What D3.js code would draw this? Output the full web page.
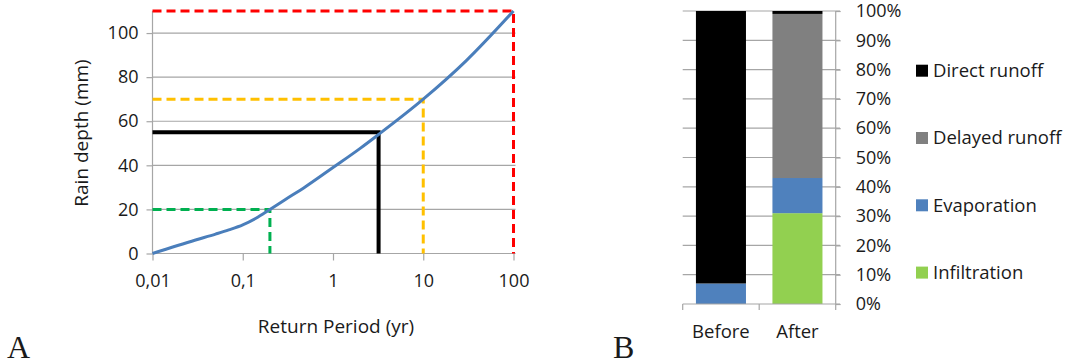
<!DOCTYPE html>
<html>
<head>
<meta charset="utf-8">
<script src="https://cdn.jsdelivr.net/npm/d3@7"></script>
<style>
  html, body { margin: 0; padding: 0; background: #fff; }
  svg { display: block; }
  text { font-family: "Open Sans", sans-serif; fill: #1a1a1a; }
</style>
</head>
<body>
<svg id="chart" width="1065" height="364"></svg>
<script>
// ---- Panel A data ----
const returnPeriods = [0.01, 0.03, 0.05, 0.07, 0.1, 0.14, 0.2, 0.3, 0.5, 1, 2, 3.2, 10, 30, 100];
const rainDepths    = [0,    6.1,  8.8,  10.7, 13,  16,   20,  24.6, 30.4, 39, 47.7, 54, 70, 87.5, 110];
const xTickValues = [0.01, 0.1, 1, 10, 100];
const xTickLabels = ["0,01", "0,1", "1", "10", "100"];
const yTickValues = [0, 20, 40, 60, 80, 100];
const refPeriods = [0.2, 3.2, 10, 100];
const refDepths  = [20, 55, 70, 110];
const refNames   = ["green", "black", "yellow", "red"];

// ---- Panel B data ----
const categories = ["Before", "After"];
const seriesNames = ["Infiltration", "Evaporation", "Delayed runoff", "Direct runoff"];
const infiltration  = [0, 31];
const evaporation   = [7, 12];
const delayedRunoff = [0, 56];
const directRunoff  = [93, 1];
const pctTicks = [0, 10, 20, 30, 40, 50, 60, 70, 80, 90, 100];

const svg = d3.select("#chart");

// ================= Panel A =================
const refStyle = {
  green:  { color: "#00b050", dash: "9,5", width: 3 },
  black:  { color: "#000000", dash: null,  width: 4 },
  yellow: { color: "#ffc000", dash: "9,5", width: 3 },
  red:    { color: "#ff0000", dash: "9,5", width: 3 }
};

const xA = d3.scaleLog().domain([0.01, 100]).range([152.5, 513.5]);
const yA = d3.scaleLinear().domain([0, 110]).range([253.5, 11]);
const gA = svg.append("g");

// gridlines
gA.append("g").selectAll("line").data(yTickValues.filter(d => d > 0)).join("line")
  .attr("x1", xA(0.01)).attr("x2", xA(100) + 2)
  .attr("y1", d => yA(d)).attr("y2", d => yA(d))
  .attr("stroke", "#a6a6a6").attr("stroke-width", 1.2);

// y axis
const yAxisA = d3.axisLeft(yA).tickValues(yTickValues).tickSize(6).tickPadding(8);
const gyA = gA.append("g").attr("transform", `translate(${xA(0.01)},0)`).call(yAxisA);
gyA.select(".domain").attr("stroke", "#a6a6a6").attr("stroke-width", 1.2).attr("d", `M0,${yA(0)}V${yA(110)}`);
gyA.selectAll(".tick line").attr("stroke", "#a6a6a6").attr("stroke-width", 1.2);
gyA.selectAll(".tick text").style("font-size", "18px").style("font-family", "Open Sans").attr("fill", "#1a1a1a");

// x axis
const xAxisA = d3.axisBottom(xA).tickValues(xTickValues)
  .tickFormat((d, i) => xTickLabels[i]).tickSize(7).tickPadding(14);
const gxA = gA.append("g").attr("transform", `translate(0,${yA(0)})`).call(xAxisA);
gxA.select(".domain").attr("stroke", "#a6a6a6").attr("stroke-width", 1.2).attr("d", `M${xA(0.01)},0H${xA(100) + 2}`);
gxA.selectAll(".tick line").attr("stroke", "#a6a6a6").attr("stroke-width", 1.2);
gxA.selectAll(".tick text").style("font-size", "18px").style("font-family", "Open Sans").attr("fill", "#1a1a1a");

// reference lines
refPeriods.forEach((p, i) => {
  const st = refStyle[refNames[i]];
  const path = d3.path();
  path.moveTo(xA(0.01), yA(refDepths[i]));
  path.lineTo(xA(p), yA(refDepths[i]));
  path.lineTo(xA(p), yA(0));
  gA.append("path").attr("d", path.toString())
    .attr("fill", "none").attr("stroke", st.color).attr("stroke-width", st.width)
    .attr("stroke-dasharray", st.dash);
});

// curve
const line = d3.line()
  .x((d, i) => xA(returnPeriods[i]))
  .y(d => yA(d))
  .curve(d3.curveMonotoneX);
gA.append("path").attr("d", line(rainDepths))
  .attr("fill", "none").attr("stroke", "#4a7ebb").attr("stroke-width", 3);

// axis titles
gA.append("text").attr("x", 336).attr("y", 333).attr("text-anchor", "middle")
  .style("font-size", "19px").text("Return Period (yr)");
gA.append("text").attr("transform", "translate(88,133) rotate(-90)").attr("text-anchor", "middle")
  .style("font-size", "19px").text("Rain depth (mm)");
gA.append("text").attr("x", 7).attr("y", 358)
  .style("font-family", "Liberation Serif, serif").style("font-size", "32px").attr("fill", "#000").text("A");

// ================= Panel B =================
const xB = d3.scaleBand().domain(categories).range([682.7, 835.7]).paddingInner(0.346).paddingOuter(0.173);
const yB = d3.scaleLinear().domain([0, 100]).range([304, 11]);
const gB = svg.append("g");

// gridlines
gB.append("g").selectAll("line").data(pctTicks.filter(d => d > 0)).join("line")
  .attr("x1", 682.7).attr("x2", 840)
  .attr("y1", d => yB(d)).attr("y2", d => yB(d))
  .attr("stroke", "#a6a6a6").attr("stroke-width", 1.2);

const seriesVals = [infiltration, evaporation, delayedRunoff, directRunoff];
const seriesColors = ["#92d050", "#4f81bd", "#808080", "#000000"];
const table = categories.map((c, i) => {
  const row = { cat: c };
  seriesNames.forEach((s, j) => row[s] = seriesVals[j][i]);
  return row;
});
const stacked = d3.stack().keys(seriesNames)(table);
gB.append("g").selectAll("g").data(stacked).join("g")
  .attr("fill", (d, i) => seriesColors[i])
  .selectAll("rect").data(d => d).join("rect")
  .attr("x", d => xB(d.data.cat))
  .attr("width", xB.bandwidth())
  .attr("y", d => yB(d[1]))
  .attr("height", d => yB(d[0]) - yB(d[1]));

// right axis
const yAxisB = d3.axisRight(yB).tickValues(pctTicks).tickFormat(d => d + "%").tickSize(5).tickPadding(15);
const gyB = gB.append("g").attr("transform", "translate(835.7,0)").call(yAxisB);
gyB.select(".domain").attr("stroke", "#a6a6a6").attr("stroke-width", 1.2).attr("d", `M0,${yB(0)}V${yB(100)}`);
gyB.selectAll(".tick line").attr("stroke", "#a6a6a6").attr("stroke-width", 1.2);
gyB.selectAll(".tick text").style("font-size", "18px").style("font-family", "Open Sans").attr("fill", "#1a1a1a");

// bottom axis
gB.append("line").attr("x1", 682.7).attr("x2", 840).attr("y1", yB(0)).attr("y2", yB(0))
  .attr("stroke", "#a6a6a6").attr("stroke-width", 1.2);
const catEdges = [682.7, xB("After") - xB.step() * xB.paddingInner() / 2, 835.7];
gB.append("g").selectAll("line").data(catEdges).join("line")
  .attr("x1", d => d).attr("x2", d => d).attr("y1", yB(0)).attr("y2", yB(0) + 6)
  .attr("stroke", "#a6a6a6").attr("stroke-width", 1.2);
gB.append("g").selectAll("text").data(categories).join("text")
  .attr("x", d => xB(d) + xB.bandwidth() / 2).attr("y", 338)
  .attr("text-anchor", "middle").style("font-size", "18.5px").text(d => d);

// legend (top to bottom: Direct, Delayed, Evaporation, Infiltration)
const legendOrder = [3, 2, 1, 0];
const lg = gB.append("g").selectAll("g").data(legendOrder).join("g")
  .attr("transform", (d, i) => `translate(916,${70.7 + i * 67.3})`);
lg.append("rect").attr("x", 0).attr("y", -6).attr("width", 12).attr("height", 12)
  .attr("fill", d => seriesColors[d]);
lg.append("text").attr("x", 17).attr("y", 0).attr("dy", "0.35em")
  .style("font-size", "18.5px").text(d => seriesNames[d]);

gB.append("text").attr("x", 613).attr("y", 358)
  .style("font-family", "Liberation Serif, serif").style("font-size", "32px").attr("fill", "#000").text("B");
</script>
</body>
</html>
